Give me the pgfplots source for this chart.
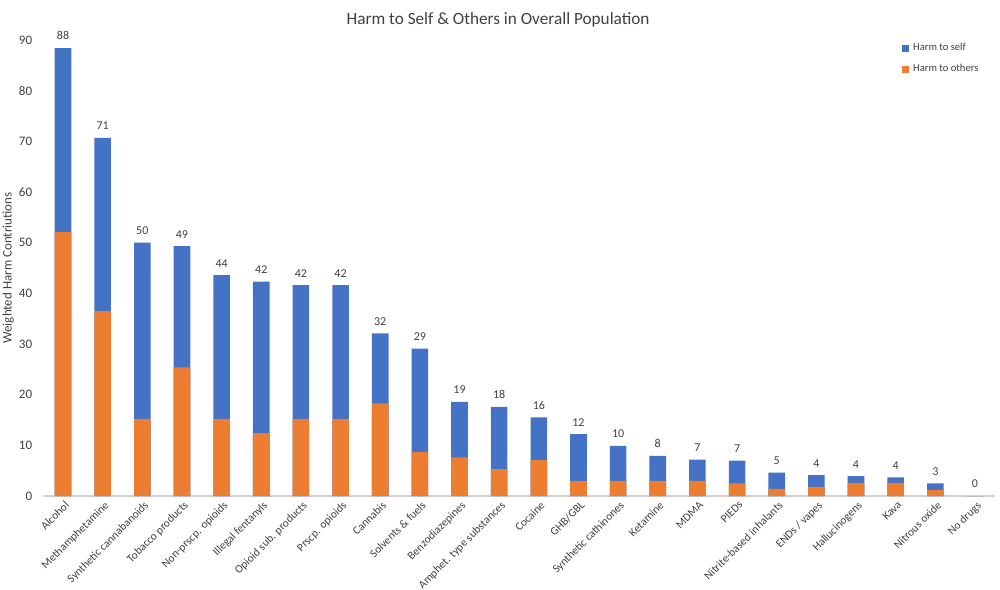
\documentclass[border=0pt]{standalone}
\usepackage{pgfplots}
\usepackage{pgfplotstable}
\pgfplotsset{compat=1.18}
\usepackage{fontspec}
\setmainfont{Carlito}
\definecolor{selfblue}{HTML}{4472C4}
\definecolor{othorange}{HTML}{ED7D31}
\definecolor{txt}{HTML}{404040}
% others = harm to others, self = harm to self, total = others + self, label = rounded total
\pgfplotstableread{
idx others self total label
0 52.1 36.3 88.4 88
1 36.5 34.2 70.7 71
2 15.2 34.8 50.0 50
3 25.4 23.9 49.3 49
4 15.2 28.4 43.6 44
5 12.4 29.9 42.3 42
6 15.2 26.4 41.6 42
7 15.2 26.4 41.6 42
8 18.3 13.8 32.1 32
9 8.7 20.4 29.1 29
10 7.6 11.0 18.6 19
11 5.3 12.3 17.6 18
12 7.1 8.4 15.5 16
13 3.0 9.2 12.2 12
14 3.0 6.9 9.9 10
15 3.0 4.9 7.9 8
16 3.0 4.2 7.2 7
17 2.5 4.5 7.0 7
18 1.4 3.2 4.6 5
19 1.8 2.3 4.1 4
20 2.6 1.3 3.9 4
21 2.6 1.1 3.7 4
22 1.2 1.3 2.5 3
23 0 0 0 0
}\harmdata
\begin{document}
\begin{tikzpicture}
\begin{axis}[
  at={(21.6pt,46.5pt)}, anchor=south west,
  scale only axis, width=475.8pt, height=228pt,
  ybar, bar shift=0pt, bar width=8.3pt,
  xmin=-0.5, xmax=23.5, ymin=0, ymax=90,
  ytick={0,10,...,90},
  xtick={0,...,23},
  xticklabels={Alcohol,Methamphetamine,Synthetic cannabanoids,Tobacco products,Non-prscp. opioids,Illegal fentanyls,Opioid sub. products,Prscp. opioids,Cannabis,Solvents \& fuels,Benzodiazepines,Amphet. type substances,Cocaine,GHB/GBL,Synthetic cathinones,Ketamine,MDMA,PIEDs,Nitrite-based inhalants,ENDs / vapes,Hallucinogens,Kava,Nitrous oxide,No drugs},
  xticklabel style={rotate=45, anchor=north east, font=\fontsize{5.7}{6.5}\selectfont, text=txt, inner sep=1pt, yshift=-0.8pt},
  yticklabel style={font=\fontsize{6.5}{7}\selectfont, text=txt, xshift=-2pt},
  /pgf/number format/assume math mode=true,
  major tick length=0pt,
  axis x line*=bottom, axis y line*=left,
  x axis line style={draw=black!18, line width=0.6pt},
  y axis line style={draw=none},
  ylabel={Weighted Harm Contriutions},
  ylabel style={at={(axis description cs:-0.0368,0.5)}, anchor=center, font=\fontsize{6.5}{7}\selectfont, text=txt},
  title={Harm to Self \& Others in Overall Population},
  title style={at={(axis description cs:0.478,1)}, anchor=center, yshift=4pt, font=\fontsize{8.6}{10}\selectfont, text=txt},
  legend style={at={(axis description cs:0.902,1.003)}, anchor=north west, draw=none, font=\fontsize{5.3}{6}\selectfont, text=txt, row sep=1.5pt, inner sep=0pt},
  legend cell align=left,
  legend image code/.code={\fill[#1, draw=none] (0pt,-1.8pt) rectangle (3.6pt,1.8pt);},
]
\addplot[fill=selfblue, draw=none, point meta=explicit, nodes near coords, nodes near coords style={font=\fontsize{6}{7}\selectfont, text=txt, anchor=south, yshift=0.5pt}] table[x=idx, y=total, meta=label] {\harmdata};
\addlegendentry{Harm to self}
\addplot[fill=othorange, draw=none] table[x=idx, y=others] {\harmdata};
\addlegendentry{Harm to others}
\end{axis}
\pgfresetboundingbox
\path[use as bounding box] (0,0) rectangle (500pt,294.5pt);
\end{tikzpicture}
\end{document}
